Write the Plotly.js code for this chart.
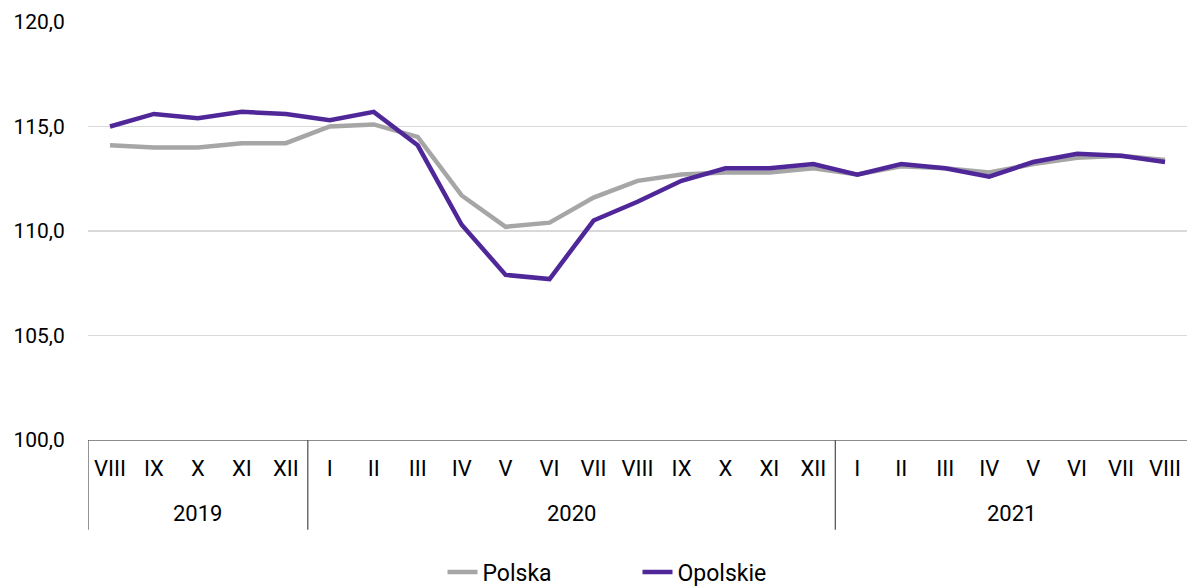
<!DOCTYPE html>
<html>
<head>
<meta charset="utf-8">
<script src="https://cdn.plot.ly/plotly-3.0.1.min.js"></script>
<style>html,body{margin:0;padding:0;background:#fff;}#chart{width:1187px;height:586px;}</style>
</head>
<body>
<div id="chart"></div>
<script>
const years = ["2019","2019","2019","2019","2019",
  "2020","2020","2020","2020","2020","2020","2020","2020","2020","2020","2020","2020",
  "2021","2021","2021","2021","2021","2021","2021","2021"];
const months = ["VIII","IX","X","XI","XII",
  "I","II","III","IV","V","VI","VII","VIII","IX","X","XI","XII",
  "I","II","III","IV","V","VI","VII","VIII"];
const polska = [114.1,114.0,114.0,114.2,114.2,
  115.0,115.1,114.5,111.7,110.2,110.4,111.6,112.4,112.7,112.8,112.8,113.0,
  112.7,113.1,113.0,112.8,113.2,113.5,113.6,113.4];
const opolskie = [115.0,115.6,115.4,115.7,115.6,
  115.3,115.7,114.1,110.3,107.9,107.7,110.5,111.4,112.4,113.0,113.0,113.2,
  112.7,113.2,113.0,112.6,113.3,113.7,113.6,113.3];

const FONT = "Roboto, 'Noto Sans', sans-serif";
const idx = months.map((m, i) => i);

// year groups
const groups = [];
years.forEach((y, i) => {
  if (!groups.length || groups[groups.length - 1].name !== y) groups.push({name: y, start: i, end: i});
  else groups[groups.length - 1].end = i;
});

const shapes = [];
const annotations = [];
const DIV_BOTTOM = -0.215;
groups.forEach((g, k) => {
  if (k === 0) shapes.push({type:"line", xref:"x", yref:"paper", x0:g.start - 0.5, x1:g.start - 0.5,
    y0:0, y1:DIV_BOTTOM, line:{color:"#595959", width:1.3}});
  if (k < groups.length - 1) shapes.push({type:"line", xref:"x", yref:"paper", x0:g.end + 0.5, x1:g.end + 0.5,
    y0:0, y1:DIV_BOTTOM, line:{color:"#595959", width:1.3}});
  annotations.push({text:g.name, xref:"x", yref:"paper", x:(g.start + g.end) / 2, y:-0.177,
    xanchor:"center", yanchor:"middle", showarrow:false,
    font:{family:FONT, size:22, color:"#000"}});
});

const data = [
  {x:idx, y:polska, name:"Polska", type:"scatter", mode:"lines",
   line:{color:"#a6a6a6", width:4.5}},
  {x:idx, y:opolskie, name:"Opolskie", type:"scatter", mode:"lines",
   line:{color:"#4f2799", width:4.5}}
];
const layout = {
  width:1187, height:586,
  margin:{l:88, r:0, t:22, b:146, autoexpand:false},
  paper_bgcolor:"#fff", plot_bgcolor:"#fff",
  separators:", ",
  font:{family:FONT, size:22, color:"#000"},
  showlegend:true,
  legend:{orientation:"h", x:0.5, xanchor:"center", y:-0.316, yanchor:"middle",
    font:{family:FONT, size:23, color:"#000"}, tracegroupgap:0,
    entrywidth:150, entrywidthmode:"pixels"},
  shapes: shapes,
  annotations: annotations,
  xaxis:{range:[-0.5, idx.length - 0.5], tickvals:idx, ticktext:months,
    showline:true, linecolor:"#8c8c8c", linewidth:1.3,
    showgrid:false, zeroline:false, ticks:"outside", ticklen:8, tickcolor:"rgba(0,0,0,0)",
    tickfont:{family:FONT, size:22, color:"#000"}},
  yaxis:{range:[100,120], tickvals:[100,105,110,115,120], tickformat:".1f",
    showgrid:true, gridcolor:"#d9d9d9", gridwidth:1.3, zeroline:false, showline:false,
    ticks:"outside", ticklen:18, tickcolor:"rgba(0,0,0,0)",
    tickfont:{family:FONT, size:21, color:"#000"}}
};
Plotly.newPlot("chart", data, layout, {displayModeBar:false, staticPlot:true});
</script>
</body>
</html>
